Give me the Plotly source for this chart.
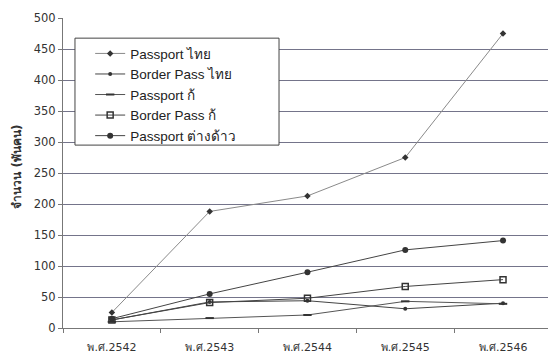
import plotly.graph_objects as go

years = ["พ.ศ.2542", "พ.ศ.2543", "พ.ศ.2544", "พ.ศ.2545", "พ.ศ.2546"]

passport_thai = [25, 188, 213, 275, 475]
border_pass_thai = [13, 42, 44, 31, 40]
passport_k = [10, 16, 21, 43, 39]
border_pass_k = [13, 41, 48, 67, 78]
passport_foreign = [15, 55, 90, 126, 141]

names = ["Passport ไทย", "Border Pass ไทย", "Passport ก้", "Border Pass ก้", "Passport ต่างด้าว"]
y_ticks = [0, 50, 100, 150, 200, 250, 300, 350, 400, 450, 500]
y_title = "จำนวน (พันคน)"

series = [passport_thai, border_pass_thai, passport_k, border_pass_k, passport_foreign]
styles = [
    dict(line=dict(color="#8a8a8a", width=1), marker=dict(symbol="diamond", size=5, color="#333333")),
    dict(line=dict(color="#444444", width=1), marker=dict(symbol="circle", size=4, color="#333333")),
    dict(line=dict(color="#555555", width=1), marker=dict(symbol="line-ew", size=6, color="#333333", line=dict(width=2, color="#333333"))),
    dict(line=dict(color="#444444", width=1), marker=dict(symbol="square-open", size=6, color="#333333", line=dict(width=1.5))),
    dict(line=dict(color="#444444", width=1), marker=dict(symbol="circle", size=6, color="#333333")),
]

fig = go.Figure()
for name, vals, st in zip(names, series, styles):
    fig.add_trace(go.Scatter(x=years, y=vals, name=name, mode="lines+markers",
                             line=st["line"], marker=st["marker"]))

# legend frame drawn as a shape so the entries can sit inset like the original
fig.add_shape(type="rect", xref="paper", yref="paper",
              x0=0.0247, x1=0.4454, y0=0.590, y1=0.935,
              fillcolor="white", line=dict(color="#444444", width=1), layer="above")

fig.add_annotation(text="<b>" + y_title + "</b>", xref="paper", yref="paper",
                   x=-0.095, y=0.52, xanchor="center", yanchor="middle",
                   textangle=-90, showarrow=False,
                   font=dict(family="DejaVu Sans, sans-serif", size=12, color="#333333"))

fig.update_layout(
    width=548, height=354,
    margin=dict(l=63, r=0, t=18, b=26),
    paper_bgcolor="white", plot_bgcolor="white",
    font=dict(family="DejaVu Sans, Noto Sans, sans-serif", size=11, color="#333333"),
    showlegend=True,
    legend=dict(x=0.056, y=0.935, xanchor="left", yanchor="top",
                bgcolor="rgba(0,0,0,0)", borderwidth=0,
                font=dict(family="Liberation Sans, Arial, sans-serif", size=13.5, color="#222222"),
                itemwidth=30),
)
fig.update_xaxes(type="category", range=[-0.5, 4.46], showline=True, linecolor="#777777",
                 ticks="outside", tickson="boundaries", ticklen=4, tickcolor="#777777",
                 showgrid=False, tickfont=dict(size=11, color="#333333"), ticklabelstandoff=9)
fig.update_yaxes(range=[0, 500], tickvals=y_ticks, showline=True, linecolor="#777777",
                 ticks="outside", ticklen=4, tickcolor="#777777",
                 showgrid=True, gridcolor="#74748a", gridwidth=1, zeroline=False,
                 tickfont=dict(size=11.5, color="#333333"))

fig.write_html("out.html")
